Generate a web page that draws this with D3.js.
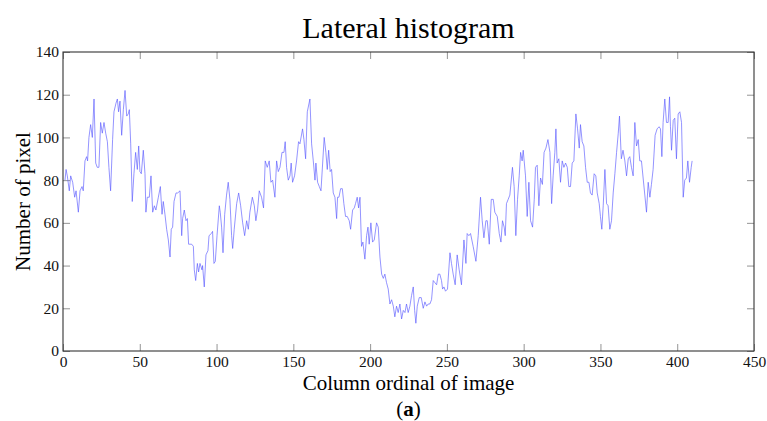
<!DOCTYPE html>
<html><head><meta charset="utf-8">
<script src="https://cdn.jsdelivr.net/npm/d3@7"></script>
<style>body{margin:0;background:#fff}svg{display:block}</style>
</head><body>
<svg id="c" width="767" height="421"></svg>
<script>
const columns = [1.3,2.0,2.8,4.1,5.0,6.3,7.6,8.5,10.0,11.1,12.4,13.2,14.3,15.4,16.0,16.9,18.0,19.1,20.2,21.3,22.3,23.4,24.5,25.6,26.7,27.8,28.9,29.9,31.0,32.3,33.2,34.5,35.4,36.2,37.1,38.2,39.3,40.4,41.5,42.5,43.2,44.1,45.1,46.2,47.3,48.4,49.3,
50.1,51.0,52.3,53.4,54.0,54.9,56.2,57.3,58.4,59.5,60.5,62.1,63.4,64.5,65.3,66.4,67.5,68.6,69.7,70.5,71.4,72.3,73.6,74.7,76.2,77.3,77.9,79.0,80.1,81.0,81.8,83.8,84.9,85.5,86.4,87.5,88.3,89.2,90.5,90.9,92.0,93.1,94.4,95.1,96.6,97.4,98.3,99.2,100.3,101.8,
102.4,103.3,104.2,105.3,106.5,107.6,108.7,109.8,110.5,111.5,113.1,114.4,115.7,117.0,118.3,119.6,120.7,121.7,123.3,124.6,125.6,126.7,127.8,129.3,130.6,131.7,133.0,134.3,135.4,136.5,138.0,139.1,140.2,141.3,142.6,143.9,144.7,145.6,146.7,147.8,148.6,149.5,150.8,152.1,153.4,
154.3,156.0,156.9,158.0,159.1,160.8,161.9,163.0,164.1,164.7,165.8,166.9,168.0,169.1,170.1,171.2,172.1,173.0,174.0,174.9,176.0,177.1,178.2,178.8,179.7,180.8,181.9,182.9,184.0,185.1,186.4,187.3,188.6,189.7,190.5,191.6,192.5,193.4,194.4,195.3,196.6,197.7,198.6,199.4,200.5,201.6,202.7,204.2,205.3,206.4,
207.5,208.6,209.6,210.7,211.8,212.9,214.0,215.1,216.1,217.2,218.3,219.4,220.5,221.6,222.7,223.7,224.8,225.9,227.0,228.1,229.0,229.8,230.7,232.0,233.3,234.6,235.7,236.8,237.8,238.9,240.0,241.1,242.2,243.3,244.4,245.4,246.5,247.2,248.1,249.1,250.4,252.0,253.0,254.1,255.4,256.7,258.0,259.5,
261.1,262.4,263.2,264.3,265.4,267.1,268.9,270.4,271.9,273.0,274.1,275.4,276.3,277.6,278.9,280.2,281.2,282.8,284.1,285.2,286.2,287.3,288.0,288.8,289.9,291.0,292.7,293.8,294.9,296.0,297.1,298.0,299.0,299.7,301.2,302.3,303.4,304.5,305.8,306.9,307.7,308.8,309.9,311.0,312.2,313.3,
314.5,315.8,317.1,318.2,319.2,320.3,321.0,321.8,322.9,324.0,325.1,326.2,327.3,328.4,329.4,330.5,331.6,332.7,334.0,335.1,336.2,337.0,338.1,339.2,340.3,341.4,342.5,343.5,344.6,345.9,347.0,347.9,349.2,350.0,350.9,351.8,352.9,354.0,355.0,356.1,357.2,358.3,359.4,360.5,361.6,362.4,
363.6,364.7,365.9,367.0,368.1,369.1,370.2,371.3,372.4,373.5,374.6,375.6,376.7,377.8,378.9,380.0,381.1,382.2,383.2,384.3,385.6,386.9,388.2,389.1,390.0,390.8,391.9,393.0,394.1,395.0,395.6,396.3,397.4,398.4,399.5,400.6,401.7,402.8,403.9,404.9,406.0,406.9,408.0,409.1,409.7];
const pixels = [80,85,82,75,82,79,72,75,65,75,77,75,89,91,89,100,106,100,118,88,86,86,107,102,107,102,98,86,75,99,112,116,118,112,117,101,113,122,110,111,113,97,70,83,93,85,96,
84,83,94,83,65,72,72,82,65,68,66,72,77,64,70,64,57,52,44,57,58,70,74,74,75,54,62,66,61,62,50,50,49,38,33,41,37,41,38,40,30,45,47,54,55,56,41,42,54,68,
65,58,46,64,73,79,71,54,48,57,69,74,68,60,54,61,57,65,72,68,61,66,75,72,67,89,86,89,79,80,72,89,84,86,93,93,98,86,80,82,88,79,82,89,98,
97,104,99,90,112,118,97,89,80,88,79,77,75,88,100,93,85,94,84,85,74,72,62,72,72,76,76,69,63,63,61,57,66,67,69,72,67,72,49,51,43,54,58,50,60,51,52,60,58,44,
36,34,36,32,29,22,24,21,16,21,18,22,15,19,18,22,18,21,26,30,19,13,21,25,25,20,23,21,22,22,24,33,32,31,36,36,33,29,30,28,29,46,41,36,31,45,38,31,
52,41,55,54,55,49,42,54,72,61,53,61,61,50,71,71,65,63,55,51,61,58,54,69,71,73,86,77,54,71,82,93,89,94,82,63,79,61,58,71,86,87,68,81,78,93,
95,99,93,69,82,93,104,88,90,79,89,86,88,86,77,77,88,89,111,104,95,106,98,96,86,79,79,74,73,83,82,74,69,63,57,68,85,69,68,57,61,74,83,93,102,110,
90,94,89,82,90,91,86,82,107,96,99,89,89,81,73,65,79,72,78,85,101,104,105,104,91,107,118,107,107,119,105,94,108,109,90,111,112,107,72,80,81,89,79,86,89];
const xTicks = [0,50,100,150,200,250,300,350,400,450];
const yTicks = [0,20,40,60,80,100,120,140];
const titleText = "Lateral histogram";
const xLabel = "Column ordinal of image";
const yLabel = "Number of pixel";

const svg = d3.select("#c");
const L = 63, R = 754, T = 52, B = 351;
const x = d3.scaleLinear().domain([0,450]).range([L,R]);
const y = d3.scaleLinear().domain([0,140]).range([B,T]);
const font = "'Liberation Serif','Times New Roman',serif";

function styleAxis(g){
  g.attr("font-family", null).style("font-family", font);
  g.select(".domain").remove();
  g.selectAll("line").attr("stroke", "#888").attr("stroke-width",0.9);
  g.selectAll("text").style("font-family", font).style("font-size","15.5px").attr("fill","#111");
}
svg.append("g").attr("transform",`translate(0,${B})`)
  .call(d3.axisBottom(x).tickValues(xTicks).tickSize(-7).tickPadding(5).tickFormat(d3.format("d")))
  .call(styleAxis);
svg.append("g").attr("transform",`translate(0,${T})`)
  .call(d3.axisTop(x).tickValues(xTicks).tickSize(-7).tickFormat(""))
  .call(styleAxis);
svg.append("g").attr("transform",`translate(${L},0)`)
  .call(d3.axisLeft(y).tickValues(yTicks).tickSize(-7).tickPadding(4).tickFormat(d3.format("d")))
  .call(styleAxis);
svg.append("g").attr("transform",`translate(${R},0)`)
  .call(d3.axisRight(y).tickValues(yTicks).tickSize(-7).tickFormat(""))
  .call(styleAxis);
svg.append("rect").attr("x",L).attr("y",T).attr("width",R-L).attr("height",B-T)
  .attr("fill","none").attr("stroke","#333").attr("stroke-width",1.1);

const pts = columns.map((c,i)=>[c,pixels[i]]);
svg.append("path").datum(pts)
  .attr("fill","none").attr("stroke","#5a5aff").attr("stroke-width",0.65)
  .attr("stroke-linejoin","round")
  .attr("d", d3.line().x(d=>x(d[0])).y(d=>y(d[1])));

svg.append("text").attr("x",(L+R)/2).attr("y",38).attr("text-anchor","middle")
  .style("font-family",font).style("font-size","30px").attr("fill","#000").text(titleText);
svg.append("text").attr("x",(L+R)/2).attr("y",390).attr("text-anchor","middle")
  .style("font-family",font).style("font-size","21px").attr("fill","#000").text(xLabel);
svg.append("text").attr("transform",`translate(30,${(T+B)/2}) rotate(-90)`).attr("text-anchor","middle")
  .style("font-family",font).style("font-size","21px").attr("fill","#000").text(yLabel);
const cap = svg.append("text").attr("x",(L+R)/2).attr("y",416).attr("text-anchor","middle")
  .style("font-family",font).style("font-size","21px").attr("fill","#000");
cap.append("tspan").text("(");
cap.append("tspan").attr("font-weight","bold").text("a");
cap.append("tspan").text(")");
</script>
</body></html>
